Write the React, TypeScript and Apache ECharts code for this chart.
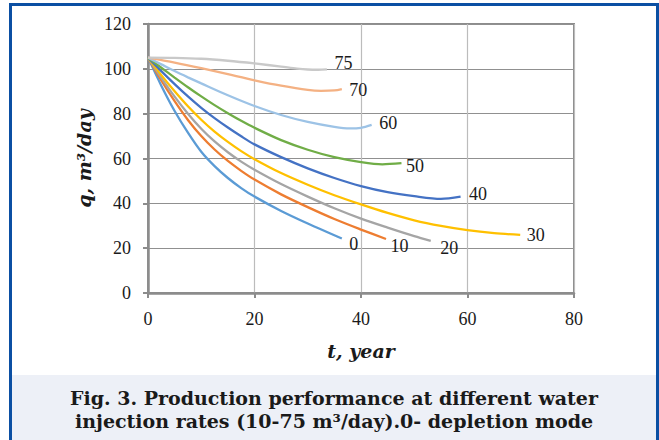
import React, { useEffect, useRef } from "react";
import * as echarts from "echarts";

// Time (years) and rate (m3/day) for each water injection rate
const T0 = [0, 2.5, 5, 7.5, 10, 12.5, 15, 17.5, 20, 25, 30, 36.4];
const Q0 = [105, 92.5, 81.2, 71.5, 63, 56.6, 51.3, 46.8, 43, 36.6, 31, 24.3];

const T10 = [0, 2.5, 5, 7.5, 10, 12.5, 15, 17.5, 20, 25, 30, 35, 40, 44.7];
const Q10 = [105, 94.8, 85.6, 77.2, 70, 64, 58.9, 54.5, 50.6, 44, 38.3, 33, 28.3, 24.1];

const T20 = [0, 2.5, 5, 7.5, 10, 12.5, 15, 17.5, 20, 25, 30, 35, 40, 45, 50, 53.1];
const Q20 = [105, 96, 87.6, 80, 73.3, 67.6, 62.8, 58.6, 55, 48.6, 43, 37.8, 33.2, 29.2, 25.4, 23.3];

const T30 = [0, 2.5, 5, 7.5, 10, 12.5, 15, 17.5, 20, 25, 30, 35, 40, 45, 50, 55, 60, 65, 69.9];
const Q30 = [105, 97.2, 90, 83.3, 77.3, 72, 67.4, 63.3, 59.7, 53.5, 48.3, 43.6, 39.5, 35.7, 32.4, 29.9, 28, 26.7, 25.9];

const T40 = [0, 2.5, 5, 7.5, 10, 12.5, 15, 17.5, 20, 25, 30, 35, 40, 45, 50, 55, 58.7];
const Q40 = [105, 99, 93.2, 87.7, 82.6, 78, 73.8, 69.9, 66.3, 60.6, 55.6, 51.3, 47.7, 45, 43.2, 42, 43];

const T50 = [0, 2.5, 5, 7.5, 10, 12.5, 15, 17.5, 20, 25, 30, 35, 40, 44, 47.6];
const Q50 = [105, 100.5, 96.1, 91.8, 87.7, 83.8, 80.2, 76.8, 73.7, 68.2, 63.9, 60.6, 58.4, 57.4, 57.9];

const T60 = [0, 2.5, 5, 7.5, 10, 15, 20, 25, 30, 35, 37.9, 40, 42];
const Q60 = [105, 102, 99, 96.2, 93.5, 88.2, 83.4, 79.4, 76.3, 74.1, 73.4, 73.7, 75];

const T70 = [0, 5, 10, 15, 20, 25, 30, 32.5, 35, 36.4];
const Q70 = [105, 102.8, 100.3, 97.6, 94.9, 92.5, 90.6, 90.2, 90.4, 91];

const T75 = [0, 5, 10, 15, 20, 25, 28, 30, 32, 33.6];
const Q75 = [105, 104.9, 104.5, 103.6, 102.4, 101, 100.1, 99.7, 99.6, 99.8];

const RATE_NAMES = ["0", "10", "20", "30", "40", "50", "60", "70", "75"];
const X_TICKS = [0, 20, 40, 60, 80];
const Y_TICKS = [0, 20, 40, 60, 80, 100, 120];

const CURVES = [
  { t: T0, q: Q0, color: "#5b9bd5", off: [7, 5] },
  { t: T10, q: Q10, color: "#ed7d31", off: [4, 7] },
  { t: T20, q: Q20, color: "#a5a5a5", off: [9, 7] },
  { t: T30, q: Q30, color: "#ffc000", off: [6, 0] },
  { t: T40, q: Q40, color: "#4472c4", off: [8, -3] },
  { t: T50, q: Q50, color: "#70ad47", off: [4, 3] },
  { t: T60, q: Q60, color: "#9dc3e6", off: [7, -2] },
  { t: T70, q: Q70, color: "#f4b183", off: [7, 1] },
  { t: T75, q: Q75, color: "#c9c9c9", off: [7, -6] },
];

const SERIF = "'Liberation Serif', serif";
const WIDE_SERIF = "'DejaVu Serif', serif";

export default function App() {
  const ref = useRef<HTMLDivElement>(null);
  useEffect(() => {
    if (!ref.current) return;
    const chart = echarts.init(ref.current, null, { renderer: "svg" });
    const series = CURVES.map((c, i) => {
      const n = c.t.length;
      return {
        type: "line",
        name: RATE_NAMES[i],
        data: c.t.map((t, k) => [t, c.q[k]]),
        smooth: 0.3,
        showSymbol: false,
        lineStyle: { color: c.color, width: 2.3 },
        itemStyle: { color: c.color },
        z: 3,
        markPoint: {
          symbol: "circle",
          symbolSize: 1,
          itemStyle: { color: "rgba(0,0,0,0)" },
          label: {
            show: true,
            position: "right",
            distance: 0,
            offset: c.off,
            formatter: RATE_NAMES[i],
            color: "#1a1a1a",
            fontSize: 18,
            fontFamily: SERIF,
          },
          data: [{ coord: [c.t[n - 1], c.q[n - 1]] }],
        },
      };
    });
    chart.setOption({
      animation: false,
      backgroundColor: "#ffffff",
      grid: {
        left: 148,
        top: 24,
        width: 426,
        height: 269,
        show: true,
        borderColor: "#8c8c8c",
        borderWidth: 2,
        containLabel: false,
      },
      xAxis: {
        type: "value",
        min: X_TICKS[0],
        max: X_TICKS[X_TICKS.length - 1],
        interval: 20,
        name: "t, year",
        nameLocation: "middle",
        nameGap: 48,
        nameTextStyle: {
          fontFamily: WIDE_SERIF,
          fontSize: 19,
          fontWeight: "bold",
          fontStyle: "italic",
          color: "#1a1a1a",
        },
        axisLine: { lineStyle: { color: "#8c8c8c", width: 2.5 } },
        axisTick: { show: true, length: 5, lineStyle: { color: "#8c8c8c", width: 2 } },
        axisLabel: { margin: 17, fontFamily: SERIF, fontSize: 18, color: "#1a1a1a" },
        splitLine: { show: true, lineStyle: { color: "#bcbcbc", width: 1.2 } },
      },
      yAxis: {
        type: "value",
        min: Y_TICKS[0],
        max: Y_TICKS[Y_TICKS.length - 1],
        interval: 20,
        name: "q, m³/day",
        nameLocation: "middle",
        nameGap: 53,
        nameRotate: 90,
        nameTextStyle: {
          fontFamily: WIDE_SERIF,
          fontSize: 19,
          fontWeight: "bold",
          fontStyle: "italic",
          color: "#1a1a1a",
        },
        axisLine: { show: true, lineStyle: { color: "#8c8c8c", width: 2.5 } },
        axisTick: { show: true, length: 5, lineStyle: { color: "#8c8c8c", width: 2 } },
        axisLabel: { margin: 17, fontFamily: SERIF, fontSize: 18, color: "#1a1a1a" },
        splitLine: { show: true, lineStyle: { color: "#909090", width: 1.2 } },
      },
      graphic: [
        {
          type: "rect",
          z: -1,
          shape: { x: 12, y: 375, width: 644, height: 70 },
          style: { fill: "#edf0f7" },
        },
        {
          type: "rect",
          z: 10,
          shape: { x: 10.5, y: 4.5, width: 647, height: 470 },
          style: { fill: "none", stroke: "#0b4fa3", lineWidth: 3 },
        },
        {
          type: "text",
          z: 10,
          x: 334,
          y: 398,
          style: {
            text: "Fig. 3. Production performance at different water",
            fontFamily: WIDE_SERIF,
            fontSize: 19,
            fontWeight: "bold",
            fill: "#1a1a1a",
            textAlign: "center",
            textVerticalAlign: "middle",
          },
        },
        {
          type: "text",
          z: 10,
          x: 334,
          y: 421,
          style: {
            text: "injection rates (10-75 m³/day).0- depletion mode",
            fontFamily: WIDE_SERIF,
            fontSize: 19,
            fontWeight: "bold",
            fill: "#1a1a1a",
            textAlign: "center",
            textVerticalAlign: "middle",
          },
        },
      ],
      series,
    });
    return () => chart.dispose();
  }, []);
  return (
    <div
      ref={ref}
      style={{ position: "fixed", left: 0, top: 0, width: 659, height: 440 }}
    />
  );
}
